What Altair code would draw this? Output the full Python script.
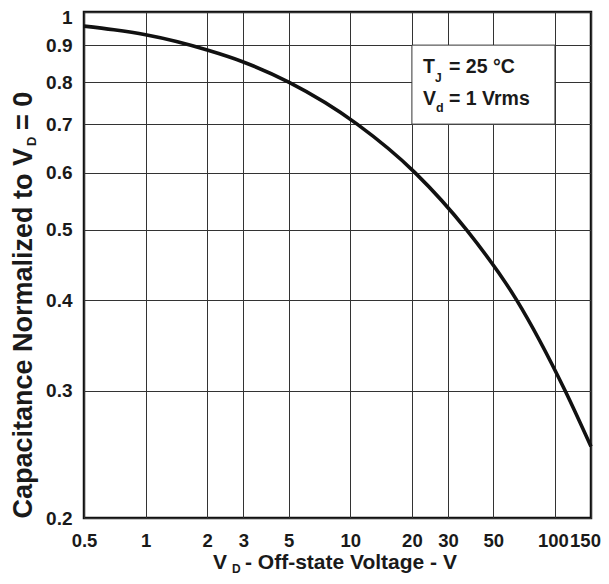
import altair as alt
import pandas as pd

# Curve (log-log axes)
voltage = [0.5, 0.7, 1, 2, 3, 5, 10.8, 20.7, 37, 65, 112, 150]
capacitance = [0.956, 0.945, 0.930, 0.886, 0.853, 0.800, 0.700, 0.600, 0.500,
               0.400, 0.300, 0.251]

x_ticks = [0.5, 1, 2, 3, 5, 10, 20, 30, 50, 100, 150]
y_ticks = [0.2, 0.3, 0.4, 0.5, 0.6, 0.7, 0.8, 0.9, 1.0]

# annotation box (data coordinates)
box_x = [20, 100]
box_y = [0.7, 0.9]

FONT = "Liberation Sans"
INK = "#1a1a1a"

df = pd.DataFrame({"V": voltage, "C": capacitance})
box_df = pd.DataFrame({"x0": [box_x[0]], "x1": [box_x[1]], "y0": [box_y[0]], "y1": [box_y[1]]})
one = pd.DataFrame({"k": [0]})

xscale = alt.Scale(type="log", domain=[0.5, 150], nice=False)
yscale = alt.Scale(type="log", domain=[0.2, 1], nice=False)

xaxis = alt.Axis(values=x_ticks, grid=True, ticks=False, domain=False, title=None,
                 format="~g", labelFont=FONT, labelFontWeight="bold", labelFontSize=18.5,
                 labelPadding=13, labelOverlap=False, labelFlush=False, labelColor=INK,
                 labelOffset={"condition": [{"test": "datum.value == 150", "value": -6},
                                            {"test": "datum.value == 100", "value": -2}],
                              "value": 0})
yaxis = alt.Axis(values=y_ticks, grid=True, ticks=False, domain=False, title=None,
                 format="~g", labelFont=FONT, labelFontWeight="bold", labelFontSize=19,
                 labelPadding=12, labelOverlap=False, labelFlush=False, labelColor=INK,
                 labelOffset={"condition": {"test": "datum.value == 1", "value": 5}, "value": 0})

line = alt.Chart(df).mark_line(color="#111", strokeWidth=3.6, interpolate="monotone").encode(
    x=alt.X("V:Q", scale=xscale, axis=xaxis),
    y=alt.Y("C:Q", scale=yscale, axis=yaxis),
)

box = alt.Chart(box_df).mark_rect(fill="white", stroke="#333", strokeWidth=1).encode(
    x="x0:Q", x2="x1:Q", y="y0:Q", y2="y1:Q"
)


def txt(s, x, y, size, angle=0, align="left"):
    kw = dict(text=s, font=FONT, fontWeight="bold", fontSize=size, color=INK,
              align=align, baseline="alphabetic")
    if angle:
        kw["angle"] = angle
    return alt.Chart(one).mark_text(**kw).encode(x=alt.value(x), y=alt.value(y))


texts = [
    # annotation
    txt("T", 339, 61, 19.5),
    txt("J", 351, 70, 12),
    txt("= 25 °C", 365, 61, 19.5),
    txt("V", 339, 93, 19.5),
    txt("d", 352, 100, 12.5),
    txt("= 1 Vrms", 365, 93, 19.5),
    # x title
    txt("V", 129, 557, 21),
    txt("D", 148, 561, 12),
    txt("- Off-state Voltage - V", 161, 557, 21),
    # y title (reads bottom to top)
    txt("Capacitance Normalized to V", -52, 136, 27, angle=270, align="right"),
    txt("D", -48, 134, 13, angle=270, align="left"),
    txt("= 0", -52, 118, 27, angle=270, align="left"),
]

chart = alt.layer(box, line, *texts).properties(
    width=507, height=506,
    autosize=alt.AutoSizeParams(type="none"),
    padding={"left": 76, "top": 4, "right": 10, "bottom": 58},
).configure_view(
    stroke="#111", strokeWidth=2.5
).configure_axis(
    gridColor="#333", gridWidth=1, gridOpacity=1
)

chart.save("out.html", embed_options={"renderer": "svg", "actions": False})
